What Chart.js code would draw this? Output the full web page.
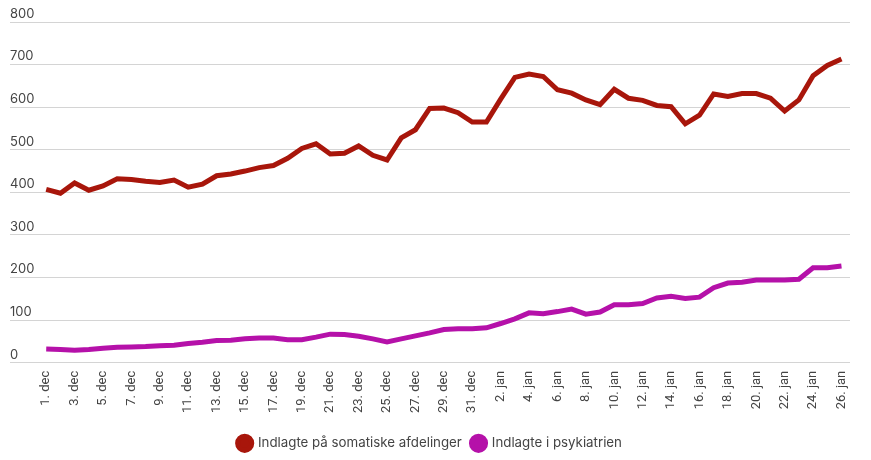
<!DOCTYPE html>
<html>
<head>
<meta charset="utf-8">
<script src="https://cdn.jsdelivr.net/npm/chart.js@4"></script>
<style>
  html, body { margin: 0; padding: 0; background: #fff; }
  #wrap { width: 871px; height: 460px; }
</style>
</head>
<body>
<div id="wrap"><canvas id="myChart" width="871" height="460"></canvas></div>
<script>
var dates = ['1. dec','2. dec','3. dec','4. dec','5. dec','6. dec','7. dec','8. dec','9. dec','10. dec',
  '11. dec','12. dec','13. dec','14. dec','15. dec','16. dec','17. dec','18. dec','19. dec','20. dec',
  '21. dec','22. dec','23. dec','24. dec','25. dec','26. dec','27. dec','28. dec','29. dec','30. dec',
  '31. dec','1. jan','2. jan','3. jan','4. jan','5. jan','6. jan','7. jan','8. jan','9. jan',
  '10. jan','11. jan','12. jan','13. jan','14. jan','15. jan','16. jan','17. jan','18. jan','19. jan',
  '20. jan','21. jan','22. jan','23. jan','24. jan','25. jan','26. jan'];

var somatisk = [407, 398, 422, 405, 415, 432, 430, 426, 423, 429,
  412, 419, 439, 443, 450, 458, 463, 480, 503, 514,
  490, 492, 509, 487, 476, 528, 547, 597, 598, 587,
  565, 565, 619, 670, 678, 672, 641, 633, 617, 606,
  642, 621, 616, 604, 601, 561, 581, 631, 625, 632,
  632, 621, 591, 617, 674, 698, 713];

var psykiatri = [32, 31, 29, 31, 34, 36, 37, 38, 40, 41,
  45, 48, 52, 53, 56, 58, 58, 54, 54, 60,
  67, 66, 62, 56, 49, 56, 63, 70, 78, 80,
  80, 82, 92, 103, 117, 115, 120, 126, 114, 119,
  136, 136, 139, 152, 156, 151, 154, 176, 187, 189,
  194, 194, 194, 196, 223, 223, 227];

var yTicks = [0, 100, 200, 300, 400, 500, 600, 700, 800];

function toPoints(arr) {
  return arr.map(function (v, i) { return { x: i, y: v }; });
}

var font = "Inter, 'DejaVu Sans', sans-serif";

var ctx = document.getElementById('myChart').getContext('2d');
var myChart = new Chart(ctx, {
  type: 'line',
  data: {
    datasets: [{
      label: 'Indlagte på somatiske afdelinger',
      data: toPoints(somatisk),
      borderColor: '#a8160b',
      backgroundColor: '#a8160b',
      borderWidth: 5,
      pointRadius: 0,
      tension: 0
    }, {
      label: 'Indlagte i psykiatrien',
      data: toPoints(psykiatri),
      borderColor: '#b511a9',
      backgroundColor: '#b511a9',
      borderWidth: 5,
      pointRadius: 0,
      tension: 0
    }]
  },
  options: {
    responsive: false,
    animation: false,
    layout: { padding: { left: 10, right: 21, top: 22, bottom: 0 } },
    scales: {
      x: {
        type: 'linear',
        min: -2.55,
        max: 56.6,
        grid: { display: false },
        border: { display: false },
        afterBuildTicks: function (scale) {
          scale.ticks = dates.map(function (d, i) { return { value: i }; })
            .filter(function (t) { return t.value % 2 === 0; });
        },
        afterFit: function (scale) {
          scale.height = 64;
        },
        ticks: {
          autoSkip: false,
          minRotation: 90,
          maxRotation: 90,
          padding: 0,
          color: '#444',
          font: { family: "Roboto, sans-serif", size: 13 },
          callback: function (v) { return dates[v]; }
        }
      },
      y: {
        min: 0,
        max: 800,
        border: { display: false },
        grid: { color: '#d4d4d4', lineWidth: 1, drawTicks: false },
        afterBuildTicks: function (scale) {
          scale.ticks = yTicks.map(function (v) { return { value: v }; });
        },
        ticks: {
          mirror: true,
          padding: 0,
          labelOffset: -8,
          color: '#444',
          font: { family: font, size: 13 }
        }
      }
    },
    plugins: {
      tooltip: { enabled: false },
      legend: {
        position: 'bottom',
        labels: {
          usePointStyle: true,
          pointStyle: 'circle',
          boxHeight: 10,
          padding: 10,
          color: '#444',
          font: { family: font, size: 13.3 }
        }
      }
    }
  }
});
</script>
</body>
</html>
